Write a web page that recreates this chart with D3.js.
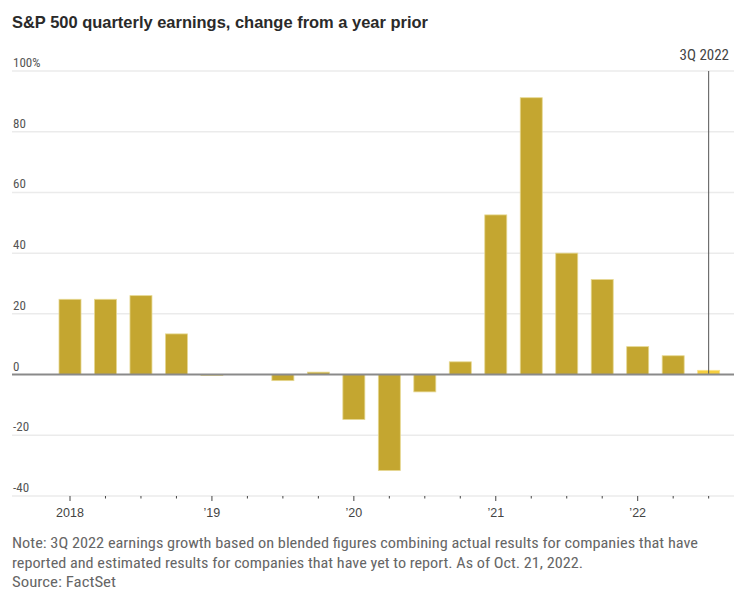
<!DOCTYPE html>
<html>
<head>
<meta charset="utf-8">
<script src="https://cdn.jsdelivr.net/npm/d3@7"></script>
<style>
  body { margin: 0; background: #fff; }
  svg { display: block; }
  text { font-family: "Liberation Sans Narrow", "Roboto Condensed", "Liberation Sans", sans-serif; }
</style>
</head>
<body>
<div id="chart"></div>
<script>
// quarters 1Q 2018 .. 3Q 2022
const quarters = ['1Q18','2Q18','3Q18','4Q18','1Q19','2Q19','3Q19','4Q19','1Q20','2Q20','3Q20','4Q20',
                  '1Q21','2Q21','3Q21','4Q21','1Q22','2Q22','3Q22'];
// year-over-year earnings change, %
const growth = [24.8, 24.8, 26.0, 13.4, -0.3, 0.0, -2.0, 0.8, -14.8, -31.6, -5.7, 4.2,
                52.6, 91.2, 40.0, 31.3, 9.2, 6.2, 1.4];
const yTicks = [-40, -20, 0, 20, 40, 60, 80, 100];
const yearLabels = { '1Q18': '2018', '1Q19': '\u201919', '1Q20': '\u201920', '1Q21': '\u201921', '1Q22': '\u201922' };
const highlight = '3Q22';

const width = 755, height = 601;
const gridLeft = 12, gridRight = 734;

const svg = d3.select('#chart')
    .append('svg')
    .attr('width', width)
    .attr('height', height);

const x = d3.scaleBand()
    .domain(quarters)
    .range([52.26, 726.4])
    .paddingInner(0.38)
    .paddingOuter(0.19);

const y = d3.scaleLinear()
    .domain([-40, 100])
    .range([496, 71]);

// title
svg.append('text')
    .attr('x', 12).attr('y', 28)
    .attr('font-size', 16.5)
    .attr('font-weight', 'bold')
    .attr('fill', '#2a2a2a')
    .style('font-family', '"Liberation Sans", sans-serif')
    .attr('textLength', 416)
    .attr('lengthAdjust', 'spacingAndGlyphs')
    .text('S&P 500 quarterly earnings, change from a year prior');

// gridlines + y labels
const grid = svg.append('g');
grid.selectAll('line')
    .data(yTicks.filter(d => d !== 0))
    .enter().append('line')
    .attr('x1', gridLeft).attr('x2', gridRight)
    .attr('y1', d => y(d)).attr('y2', d => y(d))
    .attr('stroke', '#ebebeb')
    .attr('stroke-width', 1.5);

grid.selectAll('text')
    .data(yTicks)
    .enter().append('text')
    .attr('x', 13)
    .attr('y', d => y(d) - 4)
    .attr('font-size', 13)
    .attr('fill', '#555')
    .text(d => d === 100 ? '100%' : d);

// x axis ticks
const xAxis = d3.axisBottom(x)
    .tickSize(3)
    .tickFormat(d => yearLabels[d] || '');

const xg = svg.append('g')
    .attr('transform', `translate(0,${y(-40)})`)
    .call(xAxis);
xg.select('.domain').remove();
xg.selectAll('.tick line')
    .attr('stroke', '#444')
    .attr('y2', d => yearLabels[d] ? 5 : 2.5);
xg.selectAll('.tick text')
    .attr('y', 12)
    .attr('font-size', 12.5)
    .attr('fill', '#444')
    .style('font-family', '"Liberation Sans Narrow", "Liberation Sans", sans-serif');

// bars
svg.append('g').selectAll('rect')
    .data(quarters)
    .enter().append('rect')
    .attr('x', d => x(d))
    .attr('width', x.bandwidth())
    .attr('y', (d, i) => y(Math.max(0, growth[i])))
    .attr('height', (d, i) => Math.abs(y(growth[i]) - y(0)))
    .attr('fill', d => d === highlight ? '#f6cf3f' : '#c4a630')
    .attr('stroke', d => d === highlight ? '#fbe38a' : '#e6d891')
    .attr('stroke-width', 0.8);

// zero line
svg.append('line')
    .attr('x1', gridLeft).attr('x2', gridRight)
    .attr('y1', y(0)).attr('y2', y(0))
    .attr('stroke', '#8a8a8a')
    .attr('stroke-width', 2);

// annotation for latest quarter
const hx = x(highlight) + x.bandwidth() / 2;
svg.append('line')
    .attr('x1', hx).attr('x2', hx)
    .attr('y1', y(100)).attr('y2', y(0) - 1)
    .attr('stroke', '#555')
    .attr('stroke-width', 1);
svg.append('text')
    .attr('x', 729).attr('y', 60)
    .attr('text-anchor', 'end')
    .attr('font-size', 15)
    .attr('fill', '#444')
    .text('3Q 2022');

// notes
const notes = [
  ['Note: 3Q 2022 earnings growth based on blended figures combining actual results for companies that have', 686],
  ['reported and estimated results for companies that have yet to report. As of Oct. 21, 2022.', 571],
  ['Source: FactSet', 104]
];
svg.append('g').selectAll('text')
    .data(notes)
    .enter().append('text')
    .attr('x', 12)
    .attr('y', (d, i) => 548 + i * 19.5)
    .attr('font-size', 14)
    .attr('fill', '#666')
    .attr('textLength', d => d[1])
    .attr('lengthAdjust', 'spacingAndGlyphs')
    .text(d => d[0]);
</script>
</body>
</html>
